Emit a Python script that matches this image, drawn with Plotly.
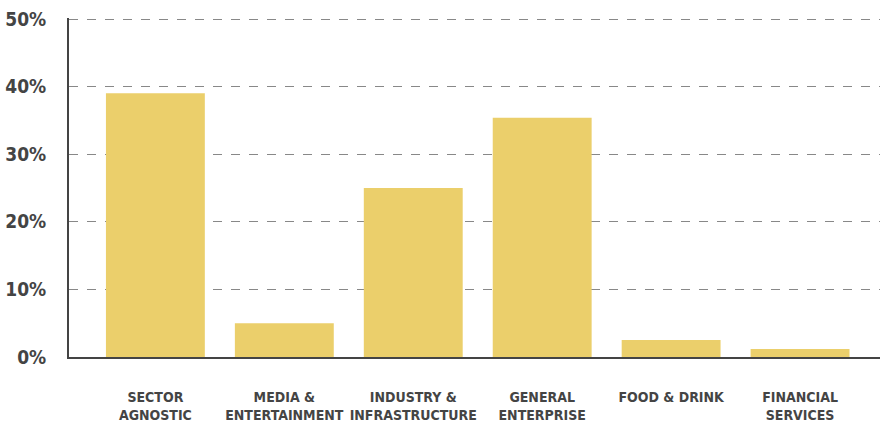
import plotly.graph_objects as go

categories = ["SECTOR<br>AGNOSTIC", "MEDIA &<br>ENTERTAINMENT", "INDUSTRY &<br>INFRASTRUCTURE",
              "GENERAL<br>ENTERPRISE", "FOOD & DRINK", "FINANCIAL<br>SERVICES"]
values = [0.39, 0.05, 0.25, 0.354, 0.025, 0.012]
y_ticks = [0, 0.1, 0.2, 0.3, 0.4, 0.5]
y_tick_labels = ["0%", "10%", "20%", "30%", "40%", "50%"]

FONT = "DejaVu Sans Condensed, sans-serif"

fig = go.Figure(go.Bar(
    x=list(range(len(categories))), y=values,
    marker=dict(color="#EBCF6B", line=dict(width=0)),
))
fig.update_layout(
    width=888, height=434,
    margin=dict(l=69, r=8, t=18, b=77),
    plot_bgcolor="white", paper_bgcolor="white",
    bargap=0.233,
    showlegend=False,
    font=dict(family=FONT, color="#444444"),
)
fig.update_xaxes(
    range=[-0.67, 5.62],
    tickmode="array", tickvals=list(range(len(categories))), ticktext=categories,
    tickfont=dict(size=14, family=FONT, color="#444444", weight="bold"),
    tickangle=0, automargin=False,
    showgrid=False, zeroline=False,
    showline=True, linecolor="#444444", linewidth=2,
    ticks="", ticklabelstandoff=26,
)
fig.update_yaxes(
    range=[0, 0.5015],
    tickmode="array", tickvals=y_ticks, ticktext=y_tick_labels,
    tickfont=dict(size=19, family=FONT, color="#444444", weight="bold"),
    automargin=False,
    showgrid=True, gridcolor="#888888", griddash="dash", gridwidth=1,
    zeroline=False,
    showline=True, linecolor="#444444", linewidth=2,
    ticks="", ticklabelstandoff=17,
)
fig.write_html("out.html")
